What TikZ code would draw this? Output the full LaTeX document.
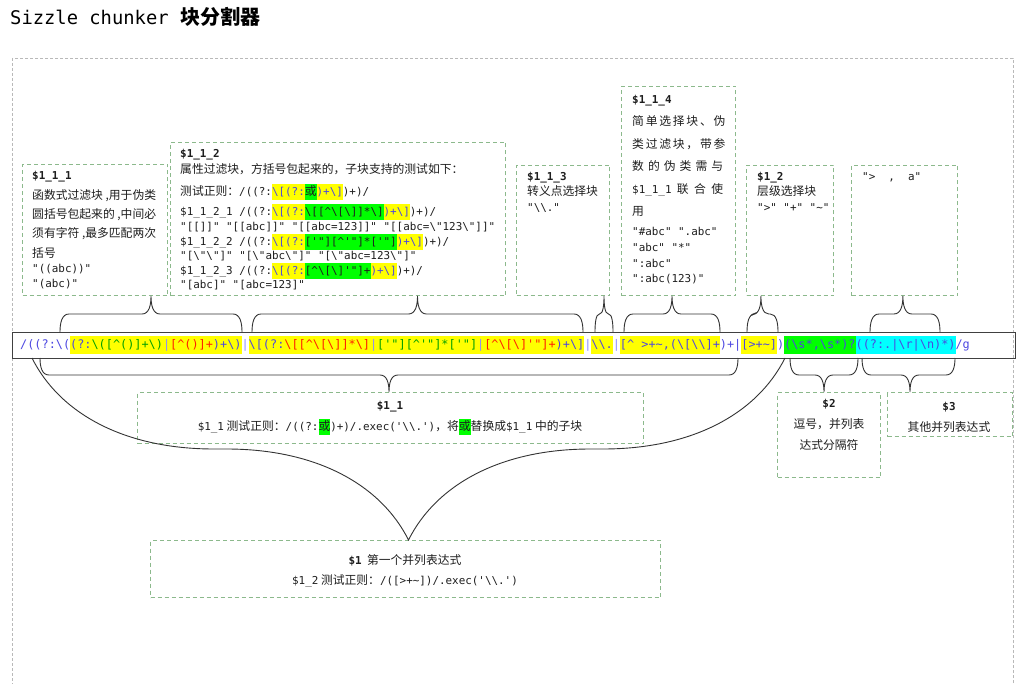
\documentclass[tikz,border=0pt]{standalone}
\usepackage{fontspec}
\setmainfont{Noto Sans CJK SC}
\setmonofont{DejaVu Sans Mono}
\usetikzlibrary{calc, decorations.pathreplacing}

\definecolor{boxgreen}{RGB}{140,185,140}
\definecolor{outergray}{RGB}{185,185,185}
\definecolor{ink}{RGB}{30,30,30}
\definecolor{hly}{RGB}{255,255,0}
\definecolor{hlg}{RGB}{0,255,0}
\definecolor{hlc}{RGB}{0,255,255}
\definecolor{rxb}{RGB}{75,70,225}
\definecolor{rxr}{RGB}{255,30,0}
\definecolor{rxg}{RGB}{0,160,0}
\definecolor{rxp}{RGB}{140,140,255}

\newcommand\Bsl{\textbackslash}
\newcommand\Crt{\textasciicircum}
\newcommand\Tld{\textasciitilde}
\newcommand\rxf{\fontsize{10.9}{15}\ttfamily}
\newcommand\hlb[2]{{\setlength\fboxsep{0pt}\colorbox{#1}{\rule[-4.5pt]{0pt}{16pt}#2}}}
\newcommand\hlbar[2]{{\setlength\fboxsep{0pt}\colorbox{#1}{\strut #2}}}

\begin{document}
\begin{tikzpicture}[x=1pt, y=-1pt,
  bx/.style={draw=boxgreen, line width=1pt, dash pattern=on 4pt off 3pt,
             anchor=north west, inner sep=0pt},
  tx/.style={anchor=north west, align=left, inner sep=0pt, text=ink,
             font=\fontsize{11.8}{19.3}\selectfont},
  ctx/.style={align=center, inner sep=0pt, text=ink,
              font=\fontsize{11.8}{21}\selectfont},
  brl/.style={line width=0.9pt, draw=black!80},
  brc/.style 2 args={to path={
    let \p1=(\tikztostart), \p2=(\tikztotarget),
        \p3=($(\p1)!#1!(\p2)$),
        \n1={min(9,(\x2-\x1)/4)}, \n2={#2/2} in
    (\p1) .. controls +(0pt,\n2*0.5pt) and +(-\n1*0.8pt,0pt) .. (\x1+\n1*1pt,\y1+\n2*1pt)
    -- (\x3-\n1*1pt,\y1+\n2*1pt)
    .. controls +(\n1*0.8pt,0pt) and +(0pt,-\n2*0.5pt) .. (\x3,\y1+2*\n2*1pt)
    .. controls +(0pt,-\n2*0.5pt) and +(-\n1*0.8pt,0pt) .. (\x3+\n1*1pt,\y1+\n2*1pt)
    -- (\x2-\n1*1pt,\y1+\n2*1pt)
    .. controls +(\n1*0.8pt,0pt) and +(0pt,\n2*0.5pt) .. (\p2)}}
]
\useasboundingbox (0,0) rectangle (1024,684);
\fill[white] (0,0) rectangle (1024,684);

% title and outer frame
\node[anchor=west, inner sep=0pt] (title) at (10,17)
  {{\fontsize{18.8}{20}\ttfamily Sizzle chunker}\hspace{12pt}{\fontsize{20}{22}\selectfont\bfseries 块分割器}};
\draw[outergray, line width=0.8pt, dash pattern=on 3pt off 2pt] (12,58) rectangle (1013,700);

% sub-pattern boxes
\node[bx, minimum width=145pt, minimum height=131pt] (b111) at (22,164) {};
\node[bx, minimum width=335pt, minimum height=153pt] (b112) at (170,142) {};
\node[bx, minimum width=93pt, minimum height=130pt] (b113) at (516,165) {};
\node[bx, minimum width=114pt, minimum height=209pt] (b114) at (621,86) {};
\node[bx, minimum width=87pt, minimum height=130pt] (b12) at (746,165) {};
\node[bx, minimum width=106pt, minimum height=130pt] (b3t) at (851,165) {};
\node[bx, minimum width=506pt, minimum height=51pt] (b11) at (137,392) {};
\node[bx, minimum width=103pt, minimum height=85pt] (b2) at (777,392) {};
\node[bx, minimum width=125pt, minimum height=44pt] (b3) at (887,392) {};
\node[bx, minimum width=510pt, minimum height=57pt] (b1) at (150,540) {};

\node[tx] (t111) at (32,171) {{\rxf\bfseries \$1\_1\_1}\\[0.5pt]
  函数式过滤块 ,用于伪类\\
  圆括号包起来的 ,中间必\\
  须有字符 ,最多匹配两次\\
  括号\\[-3.8pt]
  {\rxf "((abc))"}\\[-4.3pt]
  {\rxf "(abc)"}};

\node[tx, font=\fontsize{11.8}{15}\selectfont] (t112) at (180,149) {{\rxf\bfseries \$1\_1\_2}\\[1.5pt]
  属性过滤块，方括号包起来的，子块支持的测试如下：\\[7pt]
  测试正则：{\rxf /((?:}\hlb{hly}{\rxf\color{rxb}\Bsl[(?:}\hlb{hlg}{或}\hlb{hly}{\rxf\color{rxb})+\Bsl]}{\rxf )+)/}\\[3pt]
  {\rxf \$1\_1\_2\_1 /((?:}\hlb{hly}{\rxf\color{rxb}\Bsl[(?:}\hlb{hlg}{\rxf\Bsl[[\Crt\Bsl[\Bsl]]*\Bsl]}\hlb{hly}{\rxf\color{rxb})+\Bsl]}{\rxf )+)/}\\
  {\rxf "[[]]" "[[abc]]" "[[abc=123]]" "[[abc=\Bsl"123\Bsl"]]"}\\
  {\rxf \$1\_1\_2\_2 /((?:}\hlb{hly}{\rxf\color{rxb}\Bsl[(?:}\hlb{hlg}{\rxf['"][\Crt'"]*['"]}\hlb{hly}{\rxf\color{rxb})+\Bsl]}{\rxf )+)/}\\[-1pt]
  {\rxf "[\Bsl"\Bsl"]" "[\Bsl"abc\Bsl"]" "[\Bsl"abc=123\Bsl"]"}\\
  {\rxf \$1\_1\_2\_3 /((?:}\hlb{hly}{\rxf\color{rxb}\Bsl[(?:}\hlb{hlg}{\rxf[\Crt\Bsl[\Bsl]'"]+}\hlb{hly}{\rxf\color{rxb})+\Bsl]}{\rxf )+)/}\\[-1pt]
  {\rxf "[abc]" "[abc=123]"}};

\node[tx, font=\fontsize{11.8}{15.5}\selectfont] (t113) at (527,172) {{\rxf\bfseries \$1\_1\_3}\\
  转义点选择块\\
  {\rxf "\Bsl\Bsl."}};

\node[tx, font=\fontsize{11.8}{22.5}\selectfont] (t114) at (632,95) {{\rxf\bfseries \$1\_1\_4}\\
  \makebox[91pt][s]{简 单 选 择 块 、 伪}\\
  \makebox[91pt][s]{类 过 滤 块 ， 带 参}\\
  \makebox[91pt][s]{数 的 伪 类 需 与}\\
  \makebox[91pt][s]{{\rxf \$1\_1\_1} 联 合 使}\\
  用\\[-3pt]
  {\rxf "\#abc" ".abc"}\\[-6.5pt]
  {\rxf "abc" "*"}\\[-6.5pt]
  {\rxf ":abc"}\\[-7.5pt]
  {\rxf ":abc(123)"}};

\node[tx, font=\fontsize{11.8}{15.5}\selectfont] (t12) at (757,172) {{\rxf\bfseries \$1\_2}\\
  层级选择块\\
  {\rxf ">" "+" "\Tld"}};

\node[tx] (t3t) at (862,172) {{\rxf ">\ \ ,\ \ a"}};

\node[ctx] (t11) at (390,418.5) {{\rxf\bfseries \$1\_1}\\
  {\rxf \$1\_1} 测试正则：{\rxf /((?:}\hlb{hlg}{或}{\rxf )+)/.exec('\Bsl\Bsl.')}，将\hlb{hlg}{或}替换成{\rxf \$1\_1} 中的子块};
\node[ctx, anchor=north] (t2) at (829,399) {{\rxf\bfseries \$2}\\
  逗号，并列表\\
  达式分隔符};
\node[ctx] (t3) at (949,417) {{\rxf\bfseries \$3}\\
  其他并列表达式};
\node[ctx, font=\fontsize{11.8}{20}\selectfont] (t1) at (405,571) {{\rxf\bfseries \$1}\ \ 第一个并列表达式\\
  {\rxf \$1\_2} 测试正则：{\rxf /([>+\Tld])/.exec('\Bsl\Bsl.')}};

% the chunker pattern
\node[draw=black!75, line width=1.2pt, anchor=north west, minimum width=1003pt,
      minimum height=26pt, inner sep=0pt] (bar) at (12,332) {};
\node[anchor=west, inner sep=0pt, font=\fontsize{11.86}{18}\ttfamily] (rx) at (20,345) {%
\textcolor{rxb}{/((?:\Bsl(}%
\hlbar{hly}{\textcolor{rxb}{(?:}\textcolor{rxg}{\Bsl([\Crt()]+\Bsl)}\textcolor{rxp}{|}\textcolor{rxr}{[\Crt()]+}\textcolor{rxb}{)+\Bsl)}}%
\textcolor{rxp}{|}%
\hlbar{hly}{\textcolor{rxb}{\Bsl[(?:}\textcolor{rxr}{\Bsl[[\Crt\Bsl[\Bsl]]*\Bsl]}\textcolor{rxp}{|}\textcolor{rxg}{['"][\Crt'"]*['"]}\textcolor{rxp}{|}\textcolor{rxr}{[\Crt\Bsl[\Bsl]'"]+}\textcolor{rxb}{)+\Bsl]}}%
\textcolor{rxp}{|}%
\hlbar{hly}{\textcolor{rxb}{\Bsl\Bsl.}}%
\textcolor{rxp}{|}%
\hlbar{hly}{\textcolor{rxb}{[\Crt{} >+\Tld,(\Bsl[\Bsl\Bsl]+}}%
\textcolor{rxb}{)+|}%
\hlbar{hly}{\textcolor{rxb}{[>+\Tld]}}%
\textcolor{rxb}{)}%
\hlbar{hlg}{\textcolor{rxb}{(\Bsl s*,\Bsl s*)?}}%
\hlbar{hlc}{\textcolor{rxb}{((?:.|\Bsl r|\Bsl n)*)}}%
\textcolor{rxb}{/g}};

% braces above the pattern
\coordinate (u1) at (60,332);  \coordinate (u2) at (242,332);
\coordinate (u3) at (252,332); \coordinate (u4) at (583,332);
\coordinate (u5) at (595,332); \coordinate (u6) at (613,332);
\coordinate (u7) at (624,332); \coordinate (u8) at (720,332);
\coordinate (u9) at (747,332); \coordinate (u10) at (778,332);
\coordinate (u11) at (870,332); \coordinate (u12) at (940,332);
\draw[brl, brc={0.5}{36}] (u1) to (u2);
\draw[brl, brc={0.5}{36}] (u3) to (u4);
\draw[brl, brc={0.5}{36}] (u5) to (u6);
\draw[brl, brc={0.5}{36}] (u7) to (u8);
\draw[brl, brc={0.45}{36}] (u9) to (u10);
\draw[brl, brc={0.47}{36}] (u11) to (u12);

% braces below the pattern
\coordinate (d1) at (40,358);  \coordinate (d2) at (738,358);
\coordinate (d3) at (790,358); \coordinate (d4) at (858,358);
\coordinate (d5) at (862,358); \coordinate (d6) at (955,358);
\coordinate (d7) at (32,358);  \coordinate (d8) at (785,358);
\draw[brl, brc={0.5}{-34}] (d1) to (d2);
\draw[brl, brc={0.5}{-34}] (d3) to (d4);
\draw[brl, brc={0.516}{-34}] (d5) to (d6);
\draw[brl, decorate, decoration={brace, mirror, amplitude=182pt}] (d7) -- (d8);
\end{tikzpicture}
\end{document}
